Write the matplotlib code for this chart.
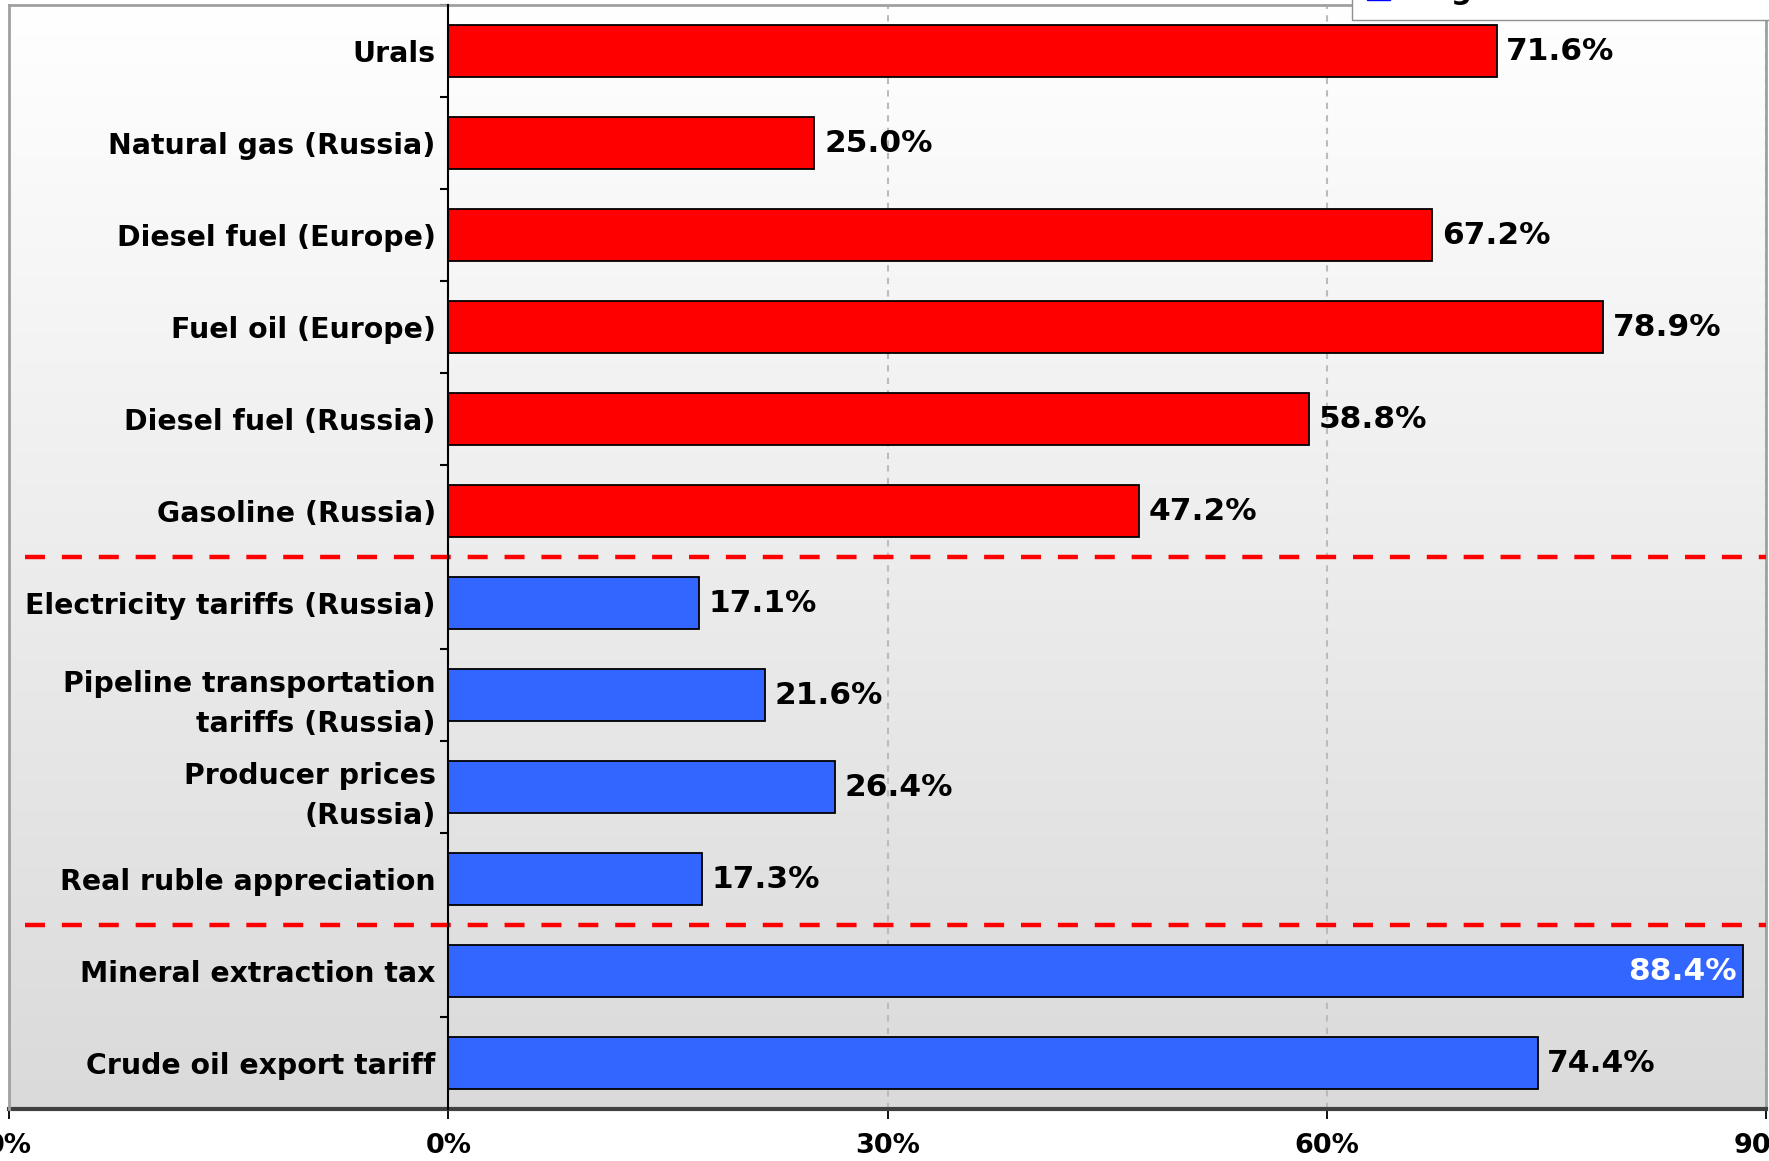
import matplotlib.pyplot as plt
from matplotlib.patches import Patch
from matplotlib.colors import LinearSegmentedColormap
import numpy as np

# factor names, top to bottom
factors = ['Urals', 'Natural gas (Russia)', 'Diesel fuel (Europe)', 'Fuel oil (Europe)',
           'Diesel fuel (Russia)', 'Gasoline (Russia)', 'Electricity tariffs (Russia)',
           'Pipeline transportation\ntariffs (Russia)', 'Producer prices\n(Russia)',
           'Real ruble appreciation', 'Mineral extraction tax', 'Crude oil export tariff']
shares = [71.6, 25.0, 67.2, 78.9, 58.8, 47.2, 17.1, 21.6, 26.4, 17.3, 88.4, 74.4]
n_positive = 6
group_breaks = [5.5, 9.5]
tick_values = [-30, 0, 30, 60, 90]
tick_labels = ['0%', '0%', '30%', '60%', '90%']

RED = '#FF0000'
BLUE = '#3366FF'

fig = plt.figure(figsize=(17.69, 11.61), dpi=100)
W, H = 1769, 1161
ax = fig.add_axes([9 / W, (H - 1109) / H, (1766 - 9) / W, (1109 - 5) / H])

xmin, xmax = -30, 90
ax.set_xlim(xmin, xmax)
ax.set_ylim(len(factors) - 0.5, -0.5)

# white to light grey background
grad = np.linspace(0, 1, 256).reshape(-1, 1)
bg = LinearSegmentedColormap.from_list('bg', ['#FFFFFF', '#DADADA'])
ax.imshow(grad, cmap=bg, extent=[xmin, xmax, len(factors) - 0.5, -0.5], aspect='auto', zorder=0)

for x in [30, 60, 90]:
    ax.axvline(x, color='#BBBBBB', lw=1.5, ls=(0, (3, 3)), zorder=1)

y = np.arange(len(factors))
colors = [RED] * n_positive + [BLUE] * (len(factors) - n_positive)
ax.barh(y, shares, height=0.57, color=colors, edgecolor='black', linewidth=1.3, zorder=3)

for yi, v in zip(y, shares):
    if v > 85:
        ax.annotate(f'{v:.1f}%', (v, yi), xytext=(-4, 0), textcoords='offset points',
                    ha='right', va='center', fontsize=22.5, fontweight='bold', color='white', zorder=5)
    else:
        ax.annotate(f'{v:.1f}%', (v, yi), xytext=(7, 0), textcoords='offset points',
                    ha='left', va='center', fontsize=22.5, fontweight='bold', color='black', zorder=5)

for b in group_breaks:
    ax.plot([-28.9, xmax], [b, b], color=RED, lw=3.2, ls=(0, (4.5, 3.8)), zorder=4, clip_on=False)

# inner axis at zero carries the category labels
ax.spines['left'].set_position(('data', 0))
ax.spines['left'].set_color('black')
ax.spines['left'].set_linewidth(1.5)
ax.spines['left'].set_zorder(6)
ax.set_yticks(y)
ax.set_yticklabels(factors, fontsize=20.4, fontweight='bold')
for lab in ax.get_yticklabels():
    lab.set_linespacing(1.55)
ax.tick_params(axis='y', which='major', length=0, pad=9)
ax.set_yticks(np.arange(-0.5, len(factors)), minor=True)
ax.tick_params(axis='y', which='minor', length=6, width=1.5, color='black', direction='out')

ax.axvline(xmin, color='#A0A0A0', lw=2, zorder=6, clip_on=False)
ax.spines['top'].set_color('#A0A0A0')
ax.spines['top'].set_linewidth(2)
ax.spines['right'].set_color('#A0A0A0')
ax.spines['right'].set_linewidth(2)
ax.spines['bottom'].set_color('#404040')
ax.spines['bottom'].set_linewidth(3)

ax.set_xticks(tick_values)
ax.set_xticklabels(tick_labels, fontsize=19.5, fontweight='bold')
ax.tick_params(axis='x', length=7, width=1.3, color='black', pad=10)

fig.legend(handles=[Patch(facecolor='#0000FF', edgecolor='#0000FF', label='Negative factors')],
           loc='lower left', bbox_to_anchor=(1352 / W, (H - 20) / H, 500 / W, 0.05), mode='expand',
           borderaxespad=0, prop={'weight': 'bold', 'size': 21}, frameon=True, fancybox=False,
           edgecolor='#909090', framealpha=1, borderpad=0.5, handlelength=0.8, handleheight=0.8,
           handletextpad=0.6)

fig.savefig('out.png', dpi=100)
